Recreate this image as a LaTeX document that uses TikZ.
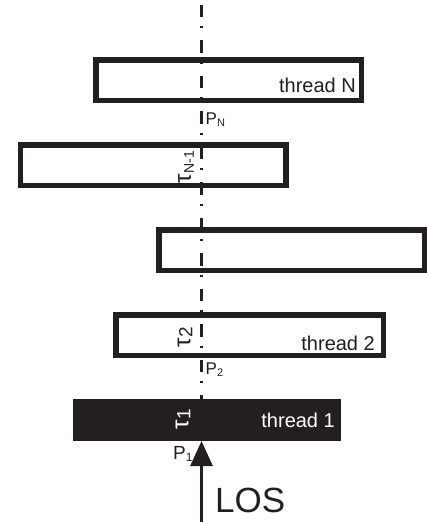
\documentclass[tikz,border=0pt]{standalone}
\usepackage{fontspec}
\setmainfont{Liberation Sans}
\usetikzlibrary{arrows.meta}
\definecolor{ink}{HTML}{231F20}
\newcommand{\fsz}[1]{\fontsize{#1}{#1}\selectfont}
\begin{document}
\begin{tikzpicture}[x=1pt,y=-1pt,
  thbox/.style={draw=ink, line width=5.5pt, fill=white, minimum width=265.5pt, minimum height=40.5pt, inner sep=0pt},
  thfill/.style={fill=ink, draw=none, minimum width=268pt, minimum height=42pt, inner sep=0pt},
  lbl/.style={inner sep=0pt, text=ink, font=\fsz{20}},
  taulbl/.style={inner sep=0pt, rotate=90, font=\fsz{24}},
  axis/.style={draw=ink, line width=3.2pt, dash pattern=on 12.5pt off 9pt on 2pt off 12pt, dash phase=31pt},
  losarrow/.style={draw=ink, line width=3pt, -{Triangle[length=25pt,width=22pt]}}
]
\useasboundingbox (0,0) rectangle (427,522);
% boxes
\node[thbox] (bN) at (228.5,80) {};
\node[thbox] (bN1) at (153.25,165) {};
\node[thbox] (b3) at (291.5,250) {};
\node[thbox, minimum width=267.5pt] (b2) at (249.5,335) {};
\node[thfill] (b1) at (207,420) {};
% axis line
\coordinate (top) at (201.5,0);
\coordinate (p1top) at (201.5,399);
\path[axis] (top) -- (p1top);
% LOS arrow
\coordinate (losbot) at (201.5,522);
\coordinate (p1) at (201.5,441);
\path[losarrow] (losbot) -- (p1);
% thread labels
\node[lbl, anchor=base east] (tN) at (356,92) {thread N};
\node[lbl, anchor=base east] (t2) at (375,350) {thread 2};
\node[lbl, anchor=base east, text=white] (t1) at (335,427) {thread 1};
% tau labels
\node[taulbl, text=ink] (tauN1) at (186,167) {τ\raisebox{-3pt}{\fsz{14}N-1}};
\node[taulbl, text=ink] (tau2) at (185,337) {τ\raisebox{-2pt}{\fsz{19}2}};
\node[taulbl, text=white] (tau1) at (183,419) {τ\raisebox{-2pt}{\fsz{19}1}};
% P labels
\node[lbl, anchor=base west, font=\fsz{17}] (PN) at (205.5,124) {P\raisebox{-2pt}{\fsz{11}N}};
\node[lbl, anchor=base west, font=\fsz{17}] (P2) at (205.5,374) {P\raisebox{-2pt}{\fsz{11}2}};
\node[lbl, anchor=base west, font=\fsz{19}] (P1) at (173,459) {P\raisebox{-2pt}{\fsz{12}1}};
% LOS
\node[lbl, anchor=base west, font=\fsz{35}] (los) at (215,512) {LOS};
\end{tikzpicture}
\end{document}
